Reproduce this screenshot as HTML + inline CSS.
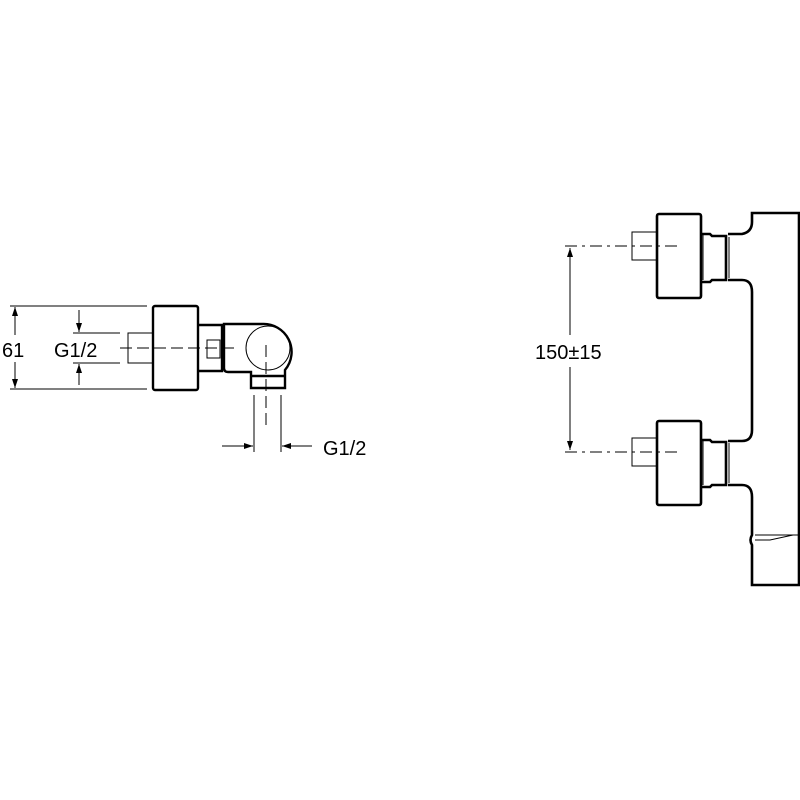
<!DOCTYPE html>
<html><head><style>body{margin:0;background:#fff}svg{display:block}</style></head><body>
<svg width="800" height="800" viewBox="0 0 800 800" xmlns="http://www.w3.org/2000/svg" font-family="Liberation Sans, sans-serif">
<defs><marker id="a" markerWidth="10" markerHeight="10" refX="9" refY="3" orient="auto" markerUnits="userSpaceOnUse"><path d="M0,0 L9,3 L0,6 z" fill="#000"/></marker></defs>
<g fill="none" stroke="#000">
<!-- LEFT VIEW -->
<g stroke-width="1">
<line x1="10" y1="306" x2="147" y2="306"/><line x1="10" y1="389" x2="147" y2="389"/>
<line x1="15" y1="320" x2="15" y2="307" marker-end="url(#a)"/><line x1="15" y1="320" x2="15" y2="335"/>
<line x1="15" y1="375" x2="15" y2="388" marker-end="url(#a)"/><line x1="15" y1="375" x2="15" y2="362"/>
<line x1="73" y1="333" x2="120" y2="333"/><line x1="73" y1="363" x2="120" y2="363"/>
<line x1="79" y1="310" x2="79" y2="332" marker-end="url(#a)"/>
<line x1="79" y1="385" x2="79" y2="364" marker-end="url(#a)"/>
<rect x="128" y="333" width="25" height="30"/>
<line x1="120" y1="348" x2="235" y2="348" stroke-dasharray="12,5"/>
<line x1="266" y1="345" x2="266" y2="430" stroke-dasharray="12,5"/>
<line x1="254" y1="395" x2="254" y2="452"/><line x1="281" y1="395" x2="281" y2="452"/>
<line x1="222" y1="446" x2="253" y2="446" marker-end="url(#a)"/>
<line x1="312" y1="446" x2="282" y2="446" marker-end="url(#a)"/>
<rect x="207" y="340" width="13" height="18"/>
<circle cx="268" cy="348" r="22"/>
</g>
<g stroke-width="2.4">
<rect x="153" y="306" width="45" height="84" rx="2"/>
<path d="M198 325 H222 V371 H198"/>
<path d="M224 324 H262 A28 28 0 0 1 285 370 V388 H251 V372 H228 Q224 372 224 368 Z"/>
<path d="M251 376 H285"/>
</g>
<!-- RIGHT VIEW -->
<g stroke-width="1">
<line x1="565" y1="246" x2="680" y2="246" stroke-dasharray="12,5,3,5"/>
<line x1="565" y1="452" x2="680" y2="452" stroke-dasharray="12,5,3,5"/>
<line x1="570" y1="335" x2="570" y2="248" marker-end="url(#a)"/>
<line x1="570" y1="367" x2="570" y2="450" marker-end="url(#a)"/>
<rect x="632" y="232" width="25" height="28"/>
<rect x="632" y="438" width="25" height="28"/>
<line x1="703" y1="234" x2="703" y2="280"/><line x1="703" y1="440" x2="703" y2="485"/>
<line x1="726" y1="237" x2="726" y2="278"/><line x1="729" y1="237" x2="729" y2="278"/>
<line x1="726" y1="443" x2="726" y2="483"/><line x1="729" y1="443" x2="729" y2="483"/>
<path d="M755 535 H799 M755 540 H770 L793 535"/>
</g>
<g stroke-width="2.6">
<rect x="657" y="214" width="44" height="84" rx="2"/>
<rect x="657" y="421" width="44" height="84" rx="2"/>
<path d="M701 234 H710 L712 236 H726 V280 H712 L710 282 H701"/>
<path d="M701 440 H710 L712 442 H726 V485 H712 L710 487 H701"/>
<path d="M728 234 H742 Q752 232 752 222 V213 H799 V585 H752 V545 Q749 540 752 535 V497 Q752 485 742 485 H728 M728 441 H742 Q752 441 752 430 V292 Q752 280 742 280 H728"/>
</g>
</g>
<g font-size="20" fill="#000">
<text x="2" y="357">61</text>
<text x="54" y="357">G1/2</text>
<text x="323" y="455">G1/2</text>
<text x="535" y="359">150±15</text>
</g>
</svg>
</body></html>
